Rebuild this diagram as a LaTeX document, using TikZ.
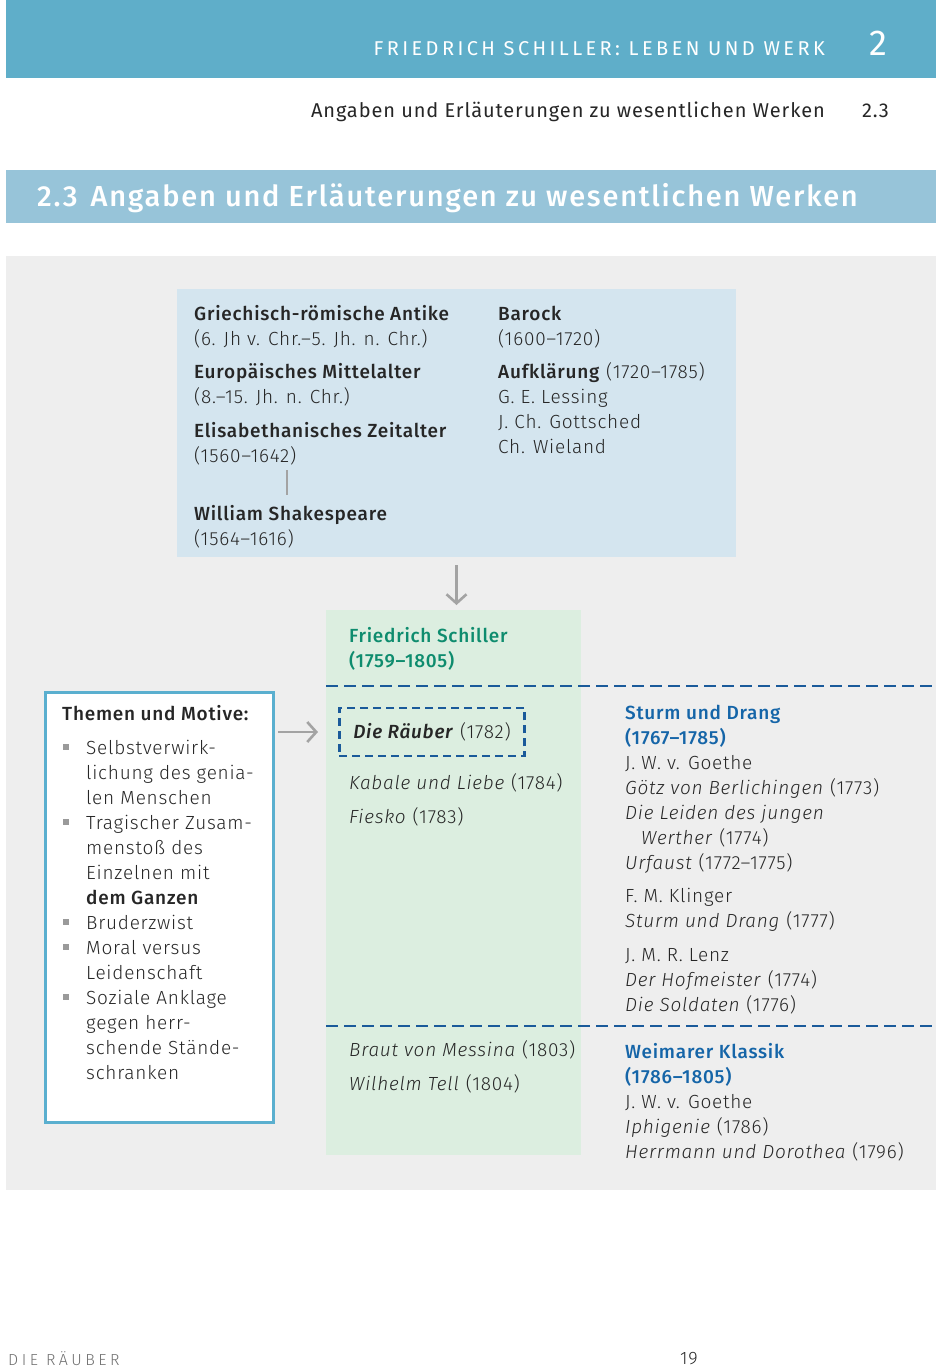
\documentclass[tikz,border=0pt]{standalone}
\usepackage{fontspec}
\setmainfont{Fira Sans}[UprightFont=* Light, ItalicFont=* Light Italic, BoldFont=* Medium, BoldItalicFont=* Medium Italic, LetterSpace=4]
\newfontfamily\regfont{Fira Sans}[LetterSpace=4.5]
\usetikzlibrary{arrows.meta}
\definecolor{topband}{HTML}{5FAEC9}
\definecolor{secband}{HTML}{97C4D9}
\definecolor{greybg}{HTML}{EEEEEE}
\definecolor{epochbg}{HTML}{D4E5EF}
\definecolor{greenbg}{HTML}{DCEEE0}
\definecolor{greentxt}{HTML}{0E8C6E}
\definecolor{bluetxt}{HTML}{1565A8}
\definecolor{dashblue}{HTML}{1A5A9A}
\definecolor{themeblue}{HTML}{5AAFCF}
\definecolor{ink}{HTML}{262626}
\definecolor{arrgrey}{HTML}{A3A3A3}
\definecolor{bulgrey}{HTML}{9A9A9A}
\definecolor{footgrey}{HTML}{707070}
\begin{document}
\begin{tikzpicture}[x=1pt,y=-1pt,
  every node/.style={inner sep=0pt, anchor=base west},
  txt/.style={font=\fontsize{19}{22}\selectfont, text=ink},
  bld/.style={font=\fontsize{19}{22}\selectfont\bfseries, text=ink},
  grn/.style={font=\fontsize{19}{22}\selectfont\bfseries, text=greentxt},
  blu/.style={font=\fontsize{19}{22}\selectfont\bfseries, text=bluetxt},
  box/.style={anchor=north west, inner sep=0pt, outer sep=0pt},
  arr/.style={draw=arrgrey, line width=2.6pt, -{Straight Barb[length=9pt,width=20pt,line width=2.6pt]}},
  vline/.style={draw=arrgrey, line width=2pt},
  dashline/.style={draw=dashblue, line width=2.6pt, dash pattern=on 12pt off 6pt},
  bullet/.style={fill=bulgrey, minimum size=6pt, anchor=center, inner sep=0pt}
]
\useasboundingbox (0,0) rectangle (936,1368);
% bands
\fill[topband] (6,0) rectangle (936,78);
\node[font=\fontsize{20}{22}\regfont\addfontfeature{LetterSpace=17}, text=white, anchor=base east] (hdr) at (825,55) {FRIEDRICH SCHILLER: LEBEN UND WERK};
\node[font=\fontsize{36}{40}\regfont, text=white, anchor=base east] (hdrnum) at (888,55) {2};
\node[font=\fontsize{20}{22}\regfont, text=ink, anchor=base east] (sub) at (825,117) {Angaben und Erläuterungen zu wesentlichen Werken};
\node[font=\fontsize{20}{22}\regfont, text=ink, anchor=base east] (subnum) at (889,117) {2.3};
\fill[secband] (6,170) rectangle (936,223);
\node[font=\fontsize{29}{32}\selectfont\bfseries\addfontfeature{LetterSpace=6.2}, text=white] (sectitle) at (37,206) {2.3\hspace{13pt}Angaben und Erläuterungen zu wesentlichen Werken};
% grey background
\fill[greybg] (6,256) rectangle (936,1190);
% epoch box
\node[box, fill=epochbg, minimum width=559pt, minimum height=268pt] (epochs) at (177,289) {};
\node[bld] (e1) at (194,320) {Griechisch-römische Antike};
\node[txt] (e1d) at (194,345) {(6. Jh v. Chr.–5. Jh. n. Chr.)};
\node[bld] (e2) at (194,378) {Europäisches Mittelalter};
\node[txt] (e2d) at (194,403) {(8.–15. Jh. n. Chr.)};
\node[bld] (e3) at (194,437) {Elisabethanisches Zeitalter};
\node[txt] (e3d) at (194,462) {(1560–1642)};
\node[bld] (shak) at (194,520) {William Shakespeare};
\node[txt] (shakd) at (194,545) {(1564–1616)};
\coordinate (lt) at (287,470);
\coordinate (lb) at (287,495);
\draw[vline] (lt) -- (lb);
\node[bld] (r1) at (498,320) {Barock};
\node[txt] (r1d) at (498,345) {(1600–1720)};
\node[txt] (r2) at (498,378) {\textbf{Aufklärung} (1720–1785)};
\node[txt] (r3) at (498,403) {G. E. Lessing};
\node[txt] (r4) at (498,428) {J. Ch. Gottsched};
\node[txt] (r5) at (498,453) {Ch. Wieland};
% green box
\node[box, fill=greenbg, minimum width=255pt, minimum height=545pt] (green) at (326,610) {};
\draw[arr] ([yshift=-8pt]epochs.south) -- ([yshift=5pt]epochs.south |- green.north);
\node[grn] (fs) at (349,642) {Friedrich Schiller};
\node[grn] (fsd) at (349,667) {(1759–1805)};
% dashed separators
\coordinate (d1a) at (326,686);
\coordinate (d1b) at (936,686);
\coordinate (d2a) at (326,1026);
\coordinate (d2b) at (936,1026);
\draw[dashline] (d1a) -- (d1b);
\draw[dashline] (d2a) -- (d2b);
% themes box
\node[box, draw=themeblue, line width=3pt, fill=white, minimum width=228pt, minimum height=430pt] (themes) at (45,692) {};
\node[bld] (th) at (62,720) {Themen und Motive:};
\foreach \y/\t [count=\i] in {754/Selbstverwirk-, 779/lichung des genia-, 804/len Menschen, 829/Tragischer Zusam-, 854/menstoß des, 879/Einzelnen mit, 929/Bruderzwist, 954/Moral versus, 979/Leidenschaft, 1004/Soziale Anklage, 1029/gegen herr-, 1054/schende Stände-, 1079/schranken}
  \node[txt] (tl\i) at (86,\y) {\t};
\node[bld] (tlbold) at (86,904) {dem Ganzen};
\foreach \y [count=\i] in {747,822,922,947,997}
  \node[bullet] (b\i) at (66,\y) {};
% works column
\node[draw=dashblue, line width=2.6pt, dash pattern=on 8pt off 5pt, anchor=west, inner xsep=14pt, minimum height=48pt, font=\fontsize{19}{22}\selectfont, text=ink] (raeuber) at (338,732) {\textbf{\itshape Die Räuber} (1782)};
\draw[arr] ([xshift=5pt]themes.east |- raeuber.west) -- ([xshift=-20pt]raeuber.west);
\node[txt] (w2) at (349,789) {\textit{Kabale und Liebe} (1784)};
\node[txt] (w3) at (349,823) {\textit{Fiesko} (1783)};
\node[txt] (w4) at (349,1056) {\textit{Braut von Messina} (1803)};
\node[txt] (w5) at (349,1090) {\textit{Wilhelm Tell} (1804)};
% right column
\node[blu] (sd) at (625,719) {Sturm und Drang};
\node[blu] (sdd) at (625,744) {(1767–1785)};
\node[txt] (s1) at (625,769) {J. W. v. Goethe};
\node[txt] (s2) at (625,794) {\textit{Götz von Berlichingen} (1773)};
\node[txt] (s3) at (625,819) {\textit{Die Leiden des jungen}};
\node[txt] (s4) at (641,844) {\textit{Werther} (1774)};
\node[txt] (s5) at (625,869) {\textit{Urfaust} (1772–1775)};
\node[txt] (s6) at (625,902) {F. M. Klinger};
\node[txt] (s7) at (625,927) {\textit{Sturm und Drang} (1777)};
\node[txt] (s8) at (625,961) {J. M. R. Lenz};
\node[txt] (s9) at (625,986) {\textit{Der Hofmeister} (1774)};
\node[txt] (s10) at (625,1011) {\textit{Die Soldaten} (1776)};
\node[blu] (wk) at (625,1058) {Weimarer Klassik};
\node[blu] (wkd) at (625,1083) {(1786–1805)};
\node[txt] (k1) at (625,1108) {J. W. v. Goethe};
\node[txt] (k2) at (625,1133) {\textit{Iphigenie} (1786)};
\node[txt] (k3) at (625,1158) {\textit{Herrmann und Dorothea} (1796)};
% footer
\node[font=\fontsize{16}{18}\selectfont\addfontfeature{LetterSpace=22}, text=footgrey] (foot) at (8,1365) {DIE RÄUBER};
\node[font=\fontsize{18}{20}\selectfont, text=ink] (page) at (680,1364) {19};
\end{tikzpicture}
\end{document}
